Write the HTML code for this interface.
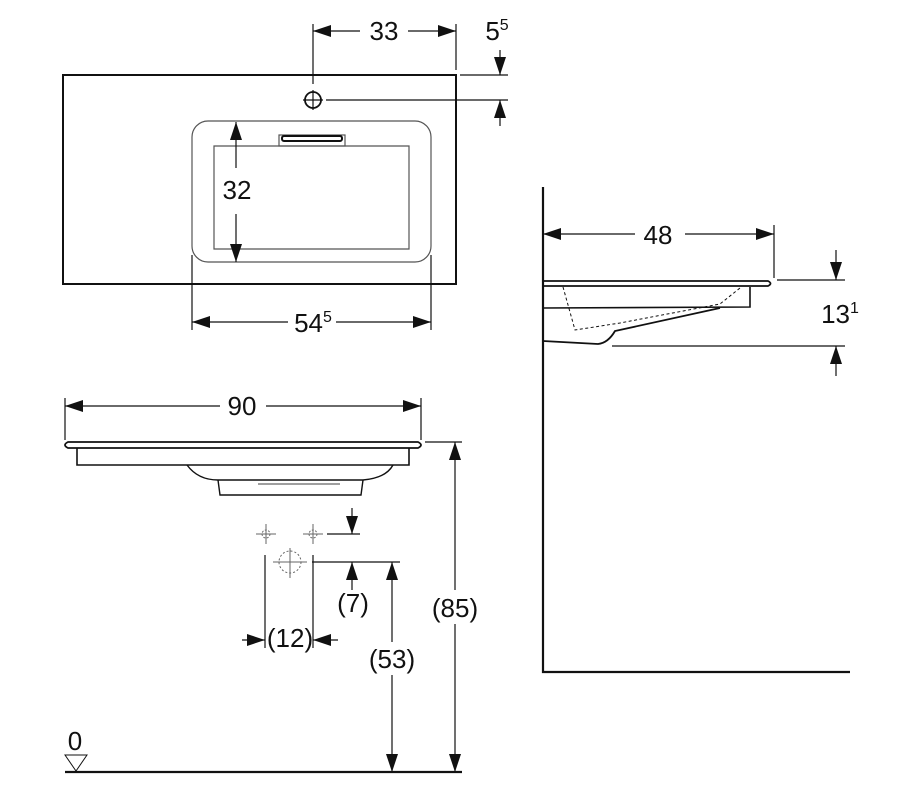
<!DOCTYPE html>
<html><head><meta charset="utf-8"><style>
html,body{margin:0;padding:0;background:#fff;}
svg{display:block;}
text{font-family:"Liberation Sans",Arial,sans-serif;fill:#111;}
</style></head><body>
<svg width="899" height="788" viewBox="0 0 899 788" xmlns="http://www.w3.org/2000/svg">
<defs>
<marker id="a" viewBox="0 0 18 12" refX="18" refY="6" markerWidth="18" markerHeight="12" markerUnits="userSpaceOnUse" orient="auto"><path d="M0,0 L18,6 L0,12 Z" fill="#111"/></marker>
</defs>
<g stroke="#111" fill="none" stroke-width="1.2">
<!-- top view -->
<rect x="63" y="75" width="393" height="209" stroke-width="2"/>
<rect x="192" y="121" width="239" height="141" rx="16" stroke="#555"/>
<path d="M214 146 L409 146 L409 249 L214 249 Z" stroke="#555"/>
<rect x="279" y="135" width="66" height="11" stroke="#555"/>
<rect x="282" y="136" width="60" height="5" rx="2" stroke-width="2"/>
<circle cx="313" cy="100" r="8" stroke-width="1.8"/>
<line x1="303" y1="100" x2="323" y2="100"/><line x1="313" y1="90" x2="313" y2="110"/>
<line x1="313" y1="24" x2="313" y2="84"/><line x1="456" y1="24" x2="456" y2="70"/>
<line x1="360" y1="31" x2="313" y2="31" marker-end="url(#a)"/>
<line x1="408" y1="31" x2="456" y2="31" marker-end="url(#a)"/>
<line x1="460" y1="75" x2="508" y2="75"/><line x1="326" y1="100" x2="508" y2="100"/>
<line x1="500" y1="50" x2="500" y2="75" marker-end="url(#a)"/>
<line x1="500" y1="126" x2="500" y2="100" marker-end="url(#a)"/>
<line x1="236" y1="168" x2="236" y2="122" marker-end="url(#a)"/>
<line x1="236" y1="214" x2="236" y2="262" marker-end="url(#a)"/>
<line x1="192" y1="255" x2="192" y2="330"/><line x1="431" y1="255" x2="431" y2="330"/>
<line x1="288" y1="322" x2="192" y2="322" marker-end="url(#a)"/>
<line x1="336" y1="322" x2="431" y2="322" marker-end="url(#a)"/>
<!-- side view -->
<path d="M543 187 L543 672 L850 672" stroke-width="2.2"/>
<line x1="635" y1="234" x2="543" y2="234" marker-end="url(#a)"/>
<line x1="685" y1="234" x2="774" y2="234" marker-end="url(#a)"/>
<line x1="774" y1="225" x2="774" y2="278"/>
<path d="M543 281 L768 281 Q773 283.5 768 286 L543 286" stroke-width="1.8"/>
<path d="M750 287 L750 307 L543 308" stroke-width="1.6"/>
<path d="M720 308 L615 331 Q608 343 598 344 L543 341" stroke-width="1.8"/>
<path d="M563 287 L575 330 L620 323 L720 304 L740 288" stroke-dasharray="3,2.5" stroke-width="1"/>
<line x1="777" y1="280" x2="845" y2="280"/><line x1="612" y1="346" x2="845" y2="346"/>
<line x1="836" y1="250" x2="836" y2="280" marker-end="url(#a)"/>
<line x1="836" y1="376" x2="836" y2="346" marker-end="url(#a)"/>
<!-- front view -->
<line x1="65" y1="398" x2="65" y2="440"/><line x1="421" y1="398" x2="421" y2="440"/>
<line x1="220" y1="406" x2="65" y2="406" marker-end="url(#a)"/>
<line x1="266" y1="406" x2="421" y2="406" marker-end="url(#a)"/>
<path d="M68 442 L418 442 Q424 445 418 448 L68 448 Q62 445 68 442 Z" stroke-width="1.8"/>
<path d="M77 448 L77 465 L409 465 L409 448" stroke-width="1.6"/>
<path d="M187 465 Q198 480 218 480 L363 480 Q386 478 393 465" stroke-width="1.4"/>
<path d="M218 480 L220 495 L361 495 L363 480" stroke-width="1.4"/>
<path d="M258 484 L340 484" stroke="#666"/>
<g stroke="#666" stroke-width="1"><line x1="256" y1="534" x2="276" y2="534"/><line x1="266" y1="524" x2="266" y2="544"/><circle cx="266" cy="534" r="4" stroke-dasharray="2,1.5"/>
<line x1="303" y1="534" x2="323" y2="534"/><line x1="313" y1="524" x2="313" y2="544"/><circle cx="313" cy="534" r="4" stroke-dasharray="2,1.5"/>
<circle cx="290" cy="562" r="11" stroke-dasharray="2,2"/><line x1="273" y1="562" x2="307" y2="562"/><line x1="290" y1="548" x2="290" y2="578"/></g>
<line x1="265" y1="555" x2="265" y2="648"/><line x1="313" y1="555" x2="313" y2="648"/>
<line x1="327" y1="534" x2="360" y2="534"/><line x1="312" y1="562" x2="400" y2="562"/>
<line x1="352" y1="508" x2="352" y2="534" marker-end="url(#a)"/>
<line x1="352" y1="590" x2="352" y2="562" marker-end="url(#a)"/>
<line x1="242" y1="640" x2="265" y2="640" marker-end="url(#a)"/>
<line x1="338" y1="640" x2="313" y2="640" marker-end="url(#a)"/>
<line x1="392" y1="642" x2="392" y2="562" marker-end="url(#a)"/>
<line x1="392" y1="675" x2="392" y2="772" marker-end="url(#a)"/>
<line x1="425" y1="442" x2="462" y2="442"/>
<line x1="455" y1="590" x2="455" y2="442" marker-end="url(#a)"/>
<line x1="455" y1="624" x2="455" y2="772" marker-end="url(#a)"/>
<line x1="65" y1="772" x2="462" y2="772" stroke-width="2.2"/>
<path d="M65 755 L87 755 L76 771 Z" stroke-width="1"/>
</g>
<g font-size="26" text-anchor="middle">
<text x="384" y="40">33</text>
<text x="497" y="40">5<tspan font-size="16" dy="-10">5</tspan></text>
<text x="237" y="199">32</text>
<text x="313" y="332">54<tspan font-size="16" dy="-10">5</tspan></text>
<text x="658" y="244">48</text>
<text x="840" y="323">13<tspan font-size="16" dy="-10">1</tspan></text>
<text x="242" y="415">90</text>
<text x="353" y="612">(7)</text>
<text x="290" y="647">(12)</text>
<text x="392" y="668">(53)</text>
<text x="455" y="617">(85)</text>
<text x="75" y="750">0</text>
</g>
</svg>
</body></html>
